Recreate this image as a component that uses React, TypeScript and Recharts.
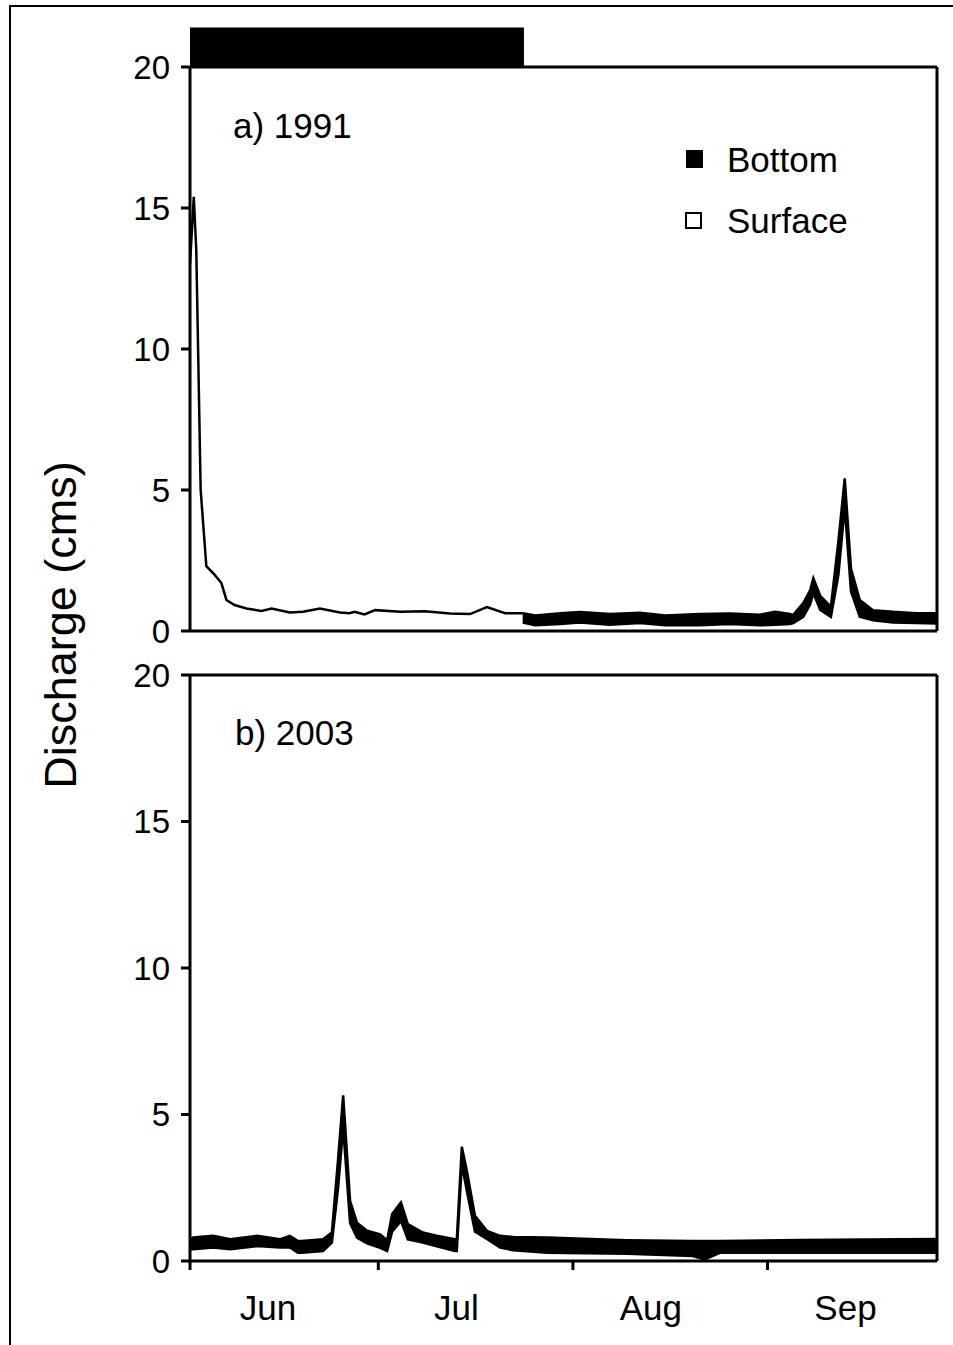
import * as React from "react";
import {
  ComposedChart,
  Line,
  Area,
  XAxis,
  YAxis,
  ReferenceArea,
  ReferenceLine,
  Legend,
} from "recharts";

const FONT = '"Liberation Sans", Arial, sans-serif';

// days counted from 1 June
const monthTicks = [0, 30, 61, 92];
const monthLabels = ["Jun", "Jul", "Aug", "Sep"];
const yTicks = [0, 5, 10, 15, 20];
const legendNames = ["Bottom", "Surface"];

// black bar above panel a (start/end day)
const barPeriodA = [0, 53.2];

// 1991 surface discharge (thin line)
const surfaceDayA = [0, 0.6, 1.0, 1.7, 2.6, 3.9, 5.0, 5.8, 7.1, 9.0, 11.4, 13.0, 15.9, 18.0, 20.7, 23.9, 25.4, 26.2, 27.8, 29.5, 33.5, 37.4, 41.4, 44.6, 47.3, 50.2, 53.0];
const surfaceQA = [13.0, 15.4, 13.5, 5.0, 2.3, 2.0, 1.7, 1.1, 0.92, 0.8, 0.71, 0.8, 0.66, 0.68, 0.8, 0.66, 0.63, 0.68, 0.59, 0.74, 0.68, 0.7, 0.62, 0.6, 0.85, 0.63, 0.63];

// 1991 bottom discharge (band)
const bottomDayA = [53.0, 55.0, 59.0, 62.1, 66.9, 71.7, 75.7, 81.2, 86.0, 90.8, 93.2, 95.6, 96.1, 97.7, 98.8, 99.3, 100.4, 102.1, 103.3, 104.3, 105.3, 106.7, 108.8, 112.0, 115.7, 119.0];
const bottomLowA = [0.3, 0.2, 0.25, 0.3, 0.22, 0.28, 0.2, 0.2, 0.25, 0.2, 0.22, 0.25, 0.28, 0.5, 0.95, 1.35, 0.75, 0.5, 2.0, 4.4, 1.4, 0.51, 0.38, 0.3, 0.28, 0.27];
const bottomHighA = [0.63, 0.55, 0.63, 0.67, 0.6, 0.65, 0.55, 0.6, 0.62, 0.58, 0.68, 0.6, 0.57, 0.99, 1.45, 1.87, 1.25, 0.86, 3.2, 5.41, 2.2, 1.1, 0.74, 0.68, 0.63, 0.63];

// 2003 bottom discharge (band)
const bottomDayB = [0, 0.5, 3.7, 6.4, 10.7, 14.3, 15.9, 17.2, 17.8, 21.2, 22.6, 23.6, 24.4, 25.5, 26.6, 28.2, 30.3, 31.4, 32.2, 33.6, 34.7, 37.1, 39.3, 42.2, 42.5, 43.3, 44.1, 45.4, 47.3, 49.4, 51.5, 56.9, 69.6, 80.1, 82.0, 84.4, 97.2, 119.0];
const bottomLowB = [0.4, 0.4, 0.46, 0.4, 0.51, 0.46, 0.46, 0.28, 0.28, 0.34, 0.63, 2.5, 4.57, 1.3, 0.8, 0.6, 0.45, 0.34, 1.0, 1.37, 0.74, 0.63, 0.5, 0.34, 0.34, 3.3, 2.4, 1.0, 0.75, 0.46, 0.37, 0.28, 0.25, 0.17, 0.05, 0.28, 0.28, 0.28];
const bottomHighB = [0.75, 0.8, 0.86, 0.74, 0.86, 0.74, 0.86, 0.68, 0.68, 0.74, 0.97, 3.5, 5.65, 2.05, 1.31, 1.03, 0.91, 0.7, 1.6, 2.0, 1.26, 0.97, 0.86, 0.74, 0.74, 3.9, 3.08, 1.54, 1.03, 0.86, 0.82, 0.8, 0.71, 0.68, 0.68, 0.68, 0.72, 0.75];

const surfaceA = surfaceDayA.map((d, i) => ({ day: d, q: surfaceQA[i] }));
const bottomA = bottomDayA.map((d, i) => ({ day: d, range: [bottomLowA[i], bottomHighA[i]] }));
const bottomB = bottomDayB.map((d, i) => ({ day: d, range: [bottomLowB[i], bottomHighB[i]] }));

const axisStroke = { stroke: "#000", strokeWidth: 3 };

function LegendBox() {
  return (
    <svg width={220} height={110} style={{ overflow: "visible" }}>
      {legendNames.map((name, i) => (
        <g key={name} transform={`translate(0, ${i * 61})`}>
          <rect
            x={7}
            y={i === 0 ? 15 : 17}
            width={i === 0 ? 17 : 15}
            height={i === 0 ? 18 : 15}
            fill={i === 0 ? "#000" : "#fff"}
            stroke="#000"
            strokeWidth={i === 0 ? 0 : 2}
          />
          <text x={48} y={37} fontSize={35} fontFamily={FONT} fill="#000">
            {name}
          </text>
        </g>
      ))}
    </svg>
  );
}

function MonthTick(props: any) {
  const idx = monthTicks.indexOf(props.payload.value);
  return (
    <text
      x={props.x + 78}
      y={props.y + 48}
      textAnchor="middle"
      fontSize={35}
      fontFamily={FONT}
      fill="#000"
    >
      {monthLabels[idx]}
    </text>
  );
}

function Panel({ top, height, margin, xHeight, children, showLabels }: any) {
  return (
    <div style={{ position: "absolute", left: 0, top }}>
      <ComposedChart width={953} height={height} margin={margin}>
        <XAxis
          dataKey="day"
          type="number"
          domain={[0, 119]}
          ticks={monthTicks}
          allowDataOverflow
          height={xHeight}
          axisLine={axisStroke}
          tickLine={axisStroke}
          tickSize={9}
          tick={showLabels ? <MonthTick /> : false}
        />
        <YAxis
          type="number"
          domain={[0, 20]}
          ticks={yTicks}
          width={190}
          axisLine={axisStroke}
          tickLine={axisStroke}
          tickSize={9}
          tickMargin={11}
          tick={{ fontSize: 33, fontFamily: FONT, fill: "#000" }}
        />
        <ReferenceLine y={20} stroke="#000" strokeWidth={3} />
        <ReferenceLine x={119} stroke="#000" strokeWidth={3} />
        {children}
      </ComposedChart>
    </div>
  );
}

export default function App() {
  return (
    <div
      style={{
        position: "absolute",
        left: 0,
        top: 0,
        width: 953,
        height: 1345,
        background: "#fff",
        overflow: "hidden",
      }}
    >
      <div
        style={{
          position: "absolute",
          left: 9,
          top: 5,
          width: 960,
          height: 1360,
          borderTop: "2px solid #000",
          borderLeft: "2px solid #000",
        }}
      />
      <Panel
        top={0}
        height={680}
        margin={{ top: 67, right: 16, bottom: 19, left: 0 }}
        xHeight={30}
        showLabels={false}
      >
        <ReferenceArea
          x1={barPeriodA[0]}
          x2={barPeriodA[1]}
          y1={20}
          y2={21.4}
          fill="#000"
          fillOpacity={1}
          ifOverflow="visible"
        />
        <Line
          data={surfaceA}
          dataKey="q"
          type="linear"
          stroke="#000"
          strokeWidth={2.5}
          dot={false}
          isAnimationActive={false}
        />
        <Area
          data={bottomA}
          dataKey="range"
          type="linear"
          stroke="#000"
          strokeWidth={2.5}
          fill="#000"
          fillOpacity={1}
          dot={false}
          isAnimationActive={false}
        />
        <Legend
          layout="horizontal"
          verticalAlign="middle"
          align="center"
          content={() => <LegendBox />}
          wrapperStyle={{ left: 679, top: 135, width: 220 }}
        />
      </Panel>
      <Panel
        top={640}
        height={705}
        margin={{ top: 35, right: 16, bottom: 24, left: 0 }}
        xHeight={60}
        showLabels
      >
        <Area
          data={bottomB}
          dataKey="range"
          type="linear"
          stroke="#000"
          strokeWidth={2.5}
          fill="#000"
          fillOpacity={1}
          dot={false}
          isAnimationActive={false}
        />
      </Panel>
      <svg
        width={953}
        height={1345}
        style={{ position: "absolute", left: 0, top: 0, pointerEvents: "none" }}
      >
        <text x={233} y={138} fontSize={35} fontFamily={FONT} fill="#000">
          a) 1991
        </text>
        <text x={235} y={745} fontSize={35} fontFamily={FONT} fill="#000">
          b) 2003
        </text>
        <text
          x={76}
          y={625}
          transform="rotate(-90, 76, 625)"
          textAnchor="middle"
          fontSize={45}
          fontFamily={FONT}
          fill="#000"
        >
          Discharge (cms)
        </text>
      </svg>
    </div>
  );
}
